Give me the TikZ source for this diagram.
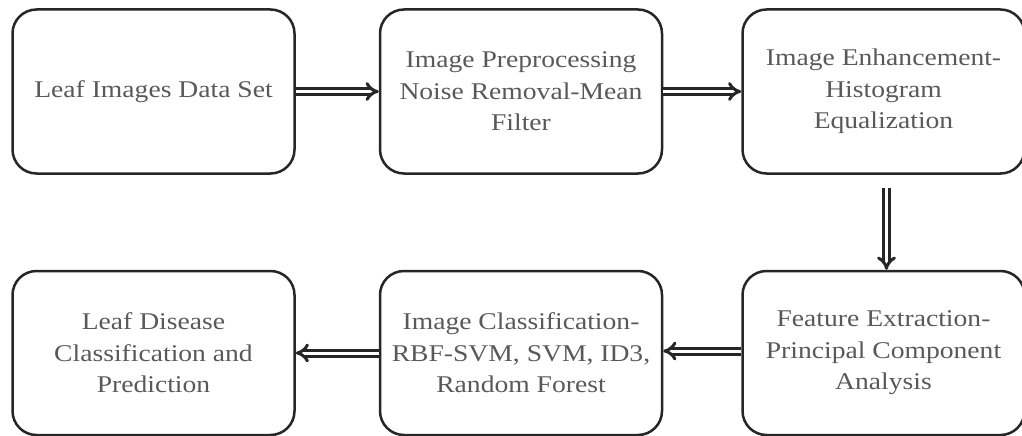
\documentclass[tikz,border=0pt]{standalone}
\usepackage{fontspec}
\setmainfont{Liberation Serif}[FakeStretch=1.15]
\usetikzlibrary{arrows.meta}
\begin{document}
\begin{tikzpicture}[x=1pt,y=-1pt,
  procbox/.style={draw=black!85, line width=2.5pt, rounded corners=24pt, minimum width=282pt, minimum height=164pt, align=center, text=black!65, font=\fontsize{24}{31.5}\selectfont, inner sep=0pt},
  flow/.style={draw=black!85, line width=3pt, double, double distance=3pt, -{Implies}}]
\useasboundingbox (0,0) rectangle (1022,436);
\node[procbox] (a) at (153.5,91.5) {Leaf Images Data Set};
\node[procbox] (b) at (521,91.5) {Image Preprocessing\\Noise Removal-Mean\\Filter};
\node[procbox] (c) at (883.5,91.5) {Image Enhancement-\\Histogram\\Equalization};
\node[procbox] (d) at (883.5,353) {Feature Extraction-\\Principal Component\\Analysis};
\node[procbox] (e) at (521,353) {Image Classification-\\RBF-SVM, SVM, ID3,\\Random Forest};
\node[procbox] (f) at (153.5,353) {Leaf Disease\\Classification and\\Prediction};
\draw[flow] (a) -- (b);
\draw[flow] (b) -- (c);
\draw[flow, shorten <=13pt] ([xshift=3pt]c.south) -- ([xshift=3pt]d.north);
\draw[flow] ([yshift=2pt]d.west) -- ([yshift=2pt]e.east);
\draw[flow] (e) -- (f);
\end{tikzpicture}
\end{document}
